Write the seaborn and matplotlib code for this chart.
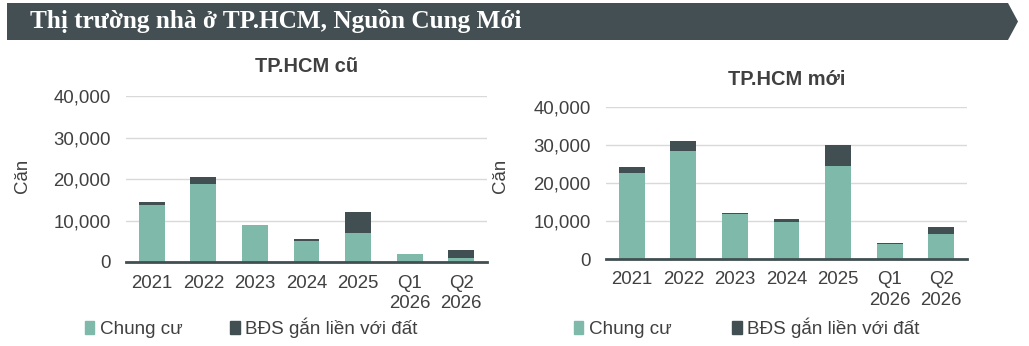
import matplotlib
matplotlib.use("Agg")
import matplotlib.pyplot as plt
import seaborn as sns
import pandas as pd
from matplotlib.patches import Polygon, Patch
from matplotlib.ticker import FuncFormatter

# DATA
periods = ["2021", "2022", "2023", "2024", "2025", "Q1\n2026", "Q2\n2026"]

old_apartment = [13800, 18800, 8900, 5150, 7100, 1850, 900]
old_landed = [600, 1600, 100, 350, 4900, 50, 1900]

new_apartment = [22600, 28500, 11900, 9700, 24400, 4000, 6600]
new_landed = [1700, 2600, 100, 800, 5500, 300, 1900]

series_names = ["Chung cư", "BĐS gắn liền với đất"]
panel_titles = ["TP.HCM cũ", "TP.HCM mới"]
y_ticks = [0, 10000, 20000, 30000, 40000]

main_title = "Thị trường nhà ở TP.HCM, Nguồn Cung Mới"
y_label = "Căn"

# colours
c_apt = "#7fb9aa"
c_land = "#414f53"
c_text = "#404040"

sns.set_style("white")
plt.rcParams["font.family"] = ["Liberation Sans", "DejaVu Sans"]

W, H = 1029, 346
fig = plt.figure(figsize=(W / 100, H / 100), dpi=100)


def px_axes(x0, y0, x1, y1):
    # pixel box (top-left origin) -> figure fraction
    return fig.add_axes([x0 / W, 1 - y1 / H, (x1 - x0) / W, (y1 - y0) / H])


# HEADER BANNER
banner = fig.add_axes([0, 0, 1, 1])
banner.set_xlim(0, W)
banner.set_ylim(H, 0)
banner.axis("off")
banner.add_patch(Polygon([[7, 3], [1008, 3], [1018, 21.5], [1008, 40], [7, 40]],
                         closed=True, facecolor="#434f53", edgecolor="none"))
banner.text(30, 21, main_title, color="white", fontsize=18.2, fontweight="bold",
            family=["Liberation Serif", "DejaVu Serif"], va="center", ha="left")


def draw_panel(ax, apt, land, title, ylab_x, legend_anchor, colspace, tpad):
    df = pd.DataFrame({"period": periods, "apt": apt, "land": land})
    sns.barplot(data=df, x="period", y="apt", color=c_apt, width=0.5,
                saturation=1, ax=ax, edgecolor="none")
    sns.barplot(data=df, x="period", y="land", bottom=df["apt"], color=c_land,
                width=0.5, saturation=1, ax=ax, edgecolor="none")

    ax.set_ylim(0, 40000)
    ax.set_yticks(y_ticks)
    ax.yaxis.set_major_formatter(FuncFormatter(lambda v, p: f"{int(v):,}"))
    ax.grid(axis="y", color="#d9d9d9", linewidth=1)
    ax.set_axisbelow(True)
    for s in ["top", "right", "left"]:
        ax.spines[s].set_visible(False)
    ax.spines["bottom"].set_color(c_land)
    ax.spines["bottom"].set_linewidth(2)
    ax.tick_params(axis="both", length=0, labelsize=13.4, colors=c_text)
    ax.tick_params(axis="y", pad=11)
    ax.tick_params(axis="x", pad=9)
    for lab in ax.get_xticklabels():
        lab.set_linespacing(1.3)
    ax.set_xlabel("")
    ax.set_ylabel("")
    ax.set_title(title, fontsize=14.4, fontweight="bold", color=c_text, pad=tpad)
    fig.text(ylab_x / W, 1 - 176 / H, y_label, rotation=90, fontsize=13.4,
             color=c_text, ha="center", va="center")

    handles = [Patch(color=c_apt), Patch(color=c_land)]
    ax.legend(handles, series_names, loc="center left",
              bbox_to_anchor=legend_anchor, bbox_transform=fig.transFigure,
              ncol=2, frameon=False, fontsize=13.6, handlelength=0.5,
              handleheight=0.7, handletextpad=0.3, columnspacing=colspace,
              labelcolor=c_text, borderpad=0, borderaxespad=0)


# PANELS
ax1 = px_axes(126, 96, 487, 262)
draw_panel(ax1, old_apartment, old_landed, panel_titles[0], 22,
           (85 / W, 1 - 328 / H), 2.5, 17)

ax2 = px_axes(606, 107, 967, 259)
draw_panel(ax2, new_apartment, new_landed, panel_titles[1], 501,
           (574 / W, 1 - 328 / H), 3.2, 16)

plt.savefig("out.png", dpi=100)
